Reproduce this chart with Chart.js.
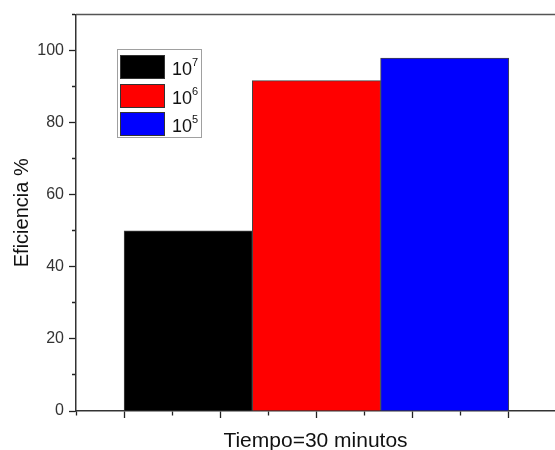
<!DOCTYPE html>
<html lang="es">
<head>
  <meta charset="UTF-8">
  <title>Eficiencia</title>
  <script src="https://cdn.jsdelivr.net/npm/chart.js"></script>
  <style>
    body { margin: 0; background: #fff; font-family: "Liberation Sans", Arial, sans-serif; }
    #caja { position: relative; width: 555px; height: 450px; }
    .leyenda {
      position: absolute; left: 117px; top: 49px; width: 83px; height: 87px;
      border: 1px solid #a0a0a0; background: #fff;
    }
    .item { position: absolute; left: 2px; height: 24px; }
    .color-box {
      position: absolute; left: 0; top: 0; width: 43px; height: 22px;
      border: 1px solid #333;
    }
    .texto {
      position: absolute; left: 52px; top: 1px; line-height: 26px;
      font-size: 18px; color: #111; white-space: nowrap;
    }
    .texto sup { font-size: 11px; vertical-align: baseline; position: relative; top: -9px; }
  </style>
</head>
<body>
  <div id="caja">
    <canvas id="grafico"></canvas>
    <div class="leyenda" id="leyenda"></div>
  </div>

  <script>
    // datos
    const exponentes = [7, 6, 5];              // series: 10^7, 10^6, 10^5
    const posiciones = [1, 2, 3];
    const eficiencia = [50.0, 91.7, 97.9];
    const colores = ['#000000', '#ff0000', '#0000ff'];
    const yEtiquetas = [0, 20, 40, 60, 80, 100];

    const xMin = 0.125, xMax = 3.86, pasoMenor = 0.375;

    const datasets = exponentes.map((e, i) => ({
      label: '10^' + e,
      data: [{ x: posiciones[i], y: eficiencia[i] }],
      backgroundColor: colores[i],
      borderColor: '#444',
      borderWidth: 1,
      grouped: false,
      barPercentage: 1,
      categoryPercentage: 1
    }));

    function esMayorX(v) {
      const k = (v - 0.5) / 0.75;
      return Math.abs(k - Math.round(k)) < 1e-6;
    }

    // linea superior del marco
    const marcoSuperior = {
      id: 'marcoSuperior',
      afterDraw(chart) {
        const { ctx, chartArea } = chart;
        ctx.save();
        ctx.strokeStyle = '#555';
        ctx.lineWidth = 1.5;
        ctx.beginPath();
        ctx.moveTo(chartArea.left, chartArea.top);
        ctx.lineTo(chartArea.right, chartArea.top);
        ctx.stroke();
        ctx.restore();
      }
    };

    const chart = new Chart(document.getElementById('grafico'), {
      type: 'bar',
      data: { datasets: datasets },
      options: {
        responsive: true,
        maintainAspectRatio: false,
        animation: false,
        layout: { padding: { top: 13, right: 0, left: 0, bottom: 0 } },
        plugins: { legend: { display: false }, tooltip: { enabled: false } },
        scales: {
          // eje de las barras (oculto, sin ticks para que el ancho salga de los datos)
          x: {
            type: 'linear',
            display: false,
            offset: false,
            min: xMin,
            max: xMax,
            afterBuildTicks(scale) { scale.ticks = []; }
          },
          // eje visible con ticks mayores y menores
          xt: {
            type: 'linear',
            axis: 'x',
            position: 'bottom',
            offset: false,
            min: xMin,
            max: xMax,
            afterBuildTicks(scale) {
              const t = [];
              for (let v = xMin; v <= xMax + 1e-9; v += pasoMenor) t.push({ value: v });
              scale.ticks = t;
            },
            afterFit(scale) { scale.height = 39; },
            ticks: { display: false },
            grid: {
              offset: false,
              drawOnChartArea: false,
              tickLength: 7,
              tickColor: '#222',
              tickWidth: 1.3,
              tickBorderDash: c => (!c.tick || esMayorX(c.tick.value)) ? [] : [4, 100]
            },
            border: { display: true, color: '#333', width: 1.5 },
            title: {
              display: true,
              text: 'Tiempo=30 minutos',
              color: '#111',
              font: { family: 'Liberation Sans', size: 21, lineHeight: 1 },
              padding: { top: 0, bottom: -2 }
            }
          },
          y: {
            min: 0,
            max: 110,
            afterFit(scale) { scale.width = 76; },
            ticks: {
              stepSize: 10,
              padding: 5,
              color: '#333',
              font: { family: 'Liberation Sans', size: 16 },
              callback: v => yEtiquetas.includes(v) ? String(v) : ''
            },
            grid: {
              drawOnChartArea: false,
              tickLength: 7,
              tickColor: '#222',
              tickWidth: 1.3,
              tickBorderDash: c => (!c.tick || yEtiquetas.includes(c.tick.value)) ? [] : [0, 3, 4, 100]
            },
            border: { display: true, color: '#333', width: 1.5 },
            title: {
              display: true,
              text: 'Eficiencia %',
              color: '#111',
              font: { family: 'Liberation Sans', size: 20 },
              padding: { top: 10, bottom: 0 }
            }
          }
        }
      },
      plugins: [marcoSuperior]
    });

    // leyenda con superindices
    const leyenda = document.getElementById('leyenda');
    exponentes.forEach((e, i) => {
      const item = document.createElement('div');
      item.className = 'item';
      item.style.top = (5 + i * 28.5) + 'px';
      item.innerHTML = `
        <span class="color-box" style="background-color: ${colores[i]};"></span>
        <span class="texto">10<sup>${e}</sup></span>
      `;
      leyenda.appendChild(item);
    });
  </script>
</body>
</html>
